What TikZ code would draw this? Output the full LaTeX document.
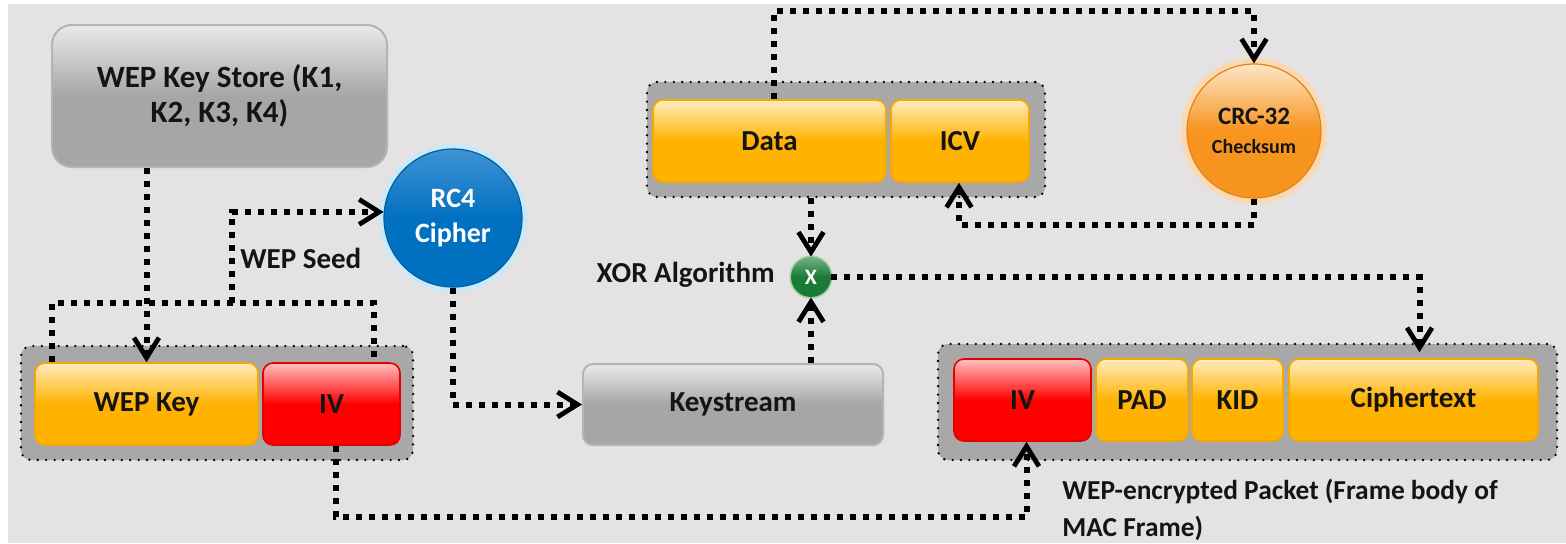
\documentclass[tikz,border=0pt]{standalone}
\usepackage{fontspec}
\setmainfont{Carlito}
\usetikzlibrary{arrows.meta}

\definecolor{bgc}{HTML}{E4E2E3}
\definecolor{grpc}{HTML}{A8A8A8}
\definecolor{amber}{HTML}{FFB300}
\definecolor{amberlt}{HTML}{FFECC0}
\definecolor{amberdk}{HTML}{F5A800}
\definecolor{ivred}{HTML}{FF0000}
\definecolor{ivredlt}{HTML}{FFC0C0}
\definecolor{ivreddk}{HTML}{E60000}
\definecolor{greyfill}{HTML}{A6A6A6}
\definecolor{greylt}{HTML}{EAEAEA}
\definecolor{greyedge}{HTML}{B4B4B4}
\definecolor{rcblue}{HTML}{0070C0}
\definecolor{rcbluelt}{HTML}{3F93D3}
\definecolor{rcglow}{HTML}{C8EAF8}
\definecolor{crcorange}{HTML}{F7941D}
\definecolor{crclt}{HTML}{FDE6C8}
\definecolor{crcglow}{HTML}{FBD9B0}
\definecolor{xgreen}{HTML}{1B7A36}
\definecolor{xglow}{HTML}{9FD3A8}
\definecolor{inkc}{HTML}{141414}

\tikzset{
  lbl/.style={font=\bfseries\fontsize{14.5}{17.5}\selectfont, text=inkc, inner sep=0pt},
  field/.style={lbl, rounded corners=5pt, minimum height=41pt, line width=0.8pt},
  amberbox/.style={field, draw=amberdk, top color=amberlt, bottom color=amber, middle color=amber},
  redbox/.style={field, draw=ivreddk, top color=ivredlt, bottom color=ivred, middle color=ivred},
  greybox/.style={field, draw=greyedge, line width=1pt, top color=greylt, bottom color=greyfill, middle color=greyfill},
  grp/.style={fill=grpc, draw=black, line width=1.3pt, line cap=round, dash pattern=on 0pt off 4.2pt, rounded corners=5pt, inner sep=0pt},
  rc4ball/.style={circle, lbl, text=white, align=center, font=\bfseries\fontsize{14}{17.5}\selectfont,
    minimum size=69pt, preaction={draw=rcglow, line width=5pt},
    top color=rcbluelt, bottom color=rcblue, middle color=rcblue, draw=rcblue!85!black, line width=0.6pt},
  crcball/.style={circle, lbl, align=center, font=\bfseries\fontsize{12.5}{14.5}\selectfont,
    minimum size=67pt, preaction={draw=crcglow, line width=6pt},
    top color=crclt, bottom color=crcorange, middle color=crcorange, draw=crcorange!90!black, line width=0.6pt},
  xball/.style={circle, lbl, text=white, font=\bfseries\fontsize{11}{13}\selectfont,
    minimum size=20pt, preaction={draw=xglow, line width=1.6pt},
    top color=xgreen!60!white, bottom color=xgreen, middle color=xgreen},
  dotline/.style={line width=3pt, dash pattern=on 3pt off 3.5pt},
  flow/.style={dotline, -{Straight Barb[length=10pt, width=12.5pt, line width=2.4pt]}}
}

\begin{document}
\begin{tikzpicture}[x=0.5pt, y=-0.5pt]
    % Canvas
    \fill[white] (0,0) rectangle (1566,543);
    \fill[bgc] (8,4) rectangle (1566,543);
    \useasboundingbox (0,0) rectangle (1566,543);

    % Packet groups
    \node[grp, minimum width=196pt, minimum height=57pt] (grpL) at (217,403) {};
    \node[grp, minimum width=199pt, minimum height=57.5pt] (grpT) at (846,139.5) {};
    \node[grp, minimum width=309.5pt, minimum height=58pt] (grpR) at (1247.5,402) {};

    % Key store and RC4
    \node[greybox, rounded corners=10pt, minimum width=167.5pt, minimum height=71pt, align=center, font=\bfseries\fontsize{15.5}{17.5}\selectfont] (store) at (219.5,96) {WEP Key Store (K1,\\K2, K3, K4)};
    \node[rc4ball] (rc4) at (453,218) {RC4\\Cipher};
    \node[lbl, anchor=west] (seedlbl) at (240,258) {WEP Seed};

    % Key + IV
    \node[amberbox, minimum width=111.5pt] (wkey) at (146.5,404) {WEP Key};
    \node[redbox, minimum width=68.5pt] (iv1) at (331.5,404) {IV};

    % Keystream and XOR
    \node[greybox, minimum width=150pt, minimum height=40.5pt] (keys) at (733,404.5) {Keystream};
    \node[xball] (xor) at (811,277) {X};
    \node[lbl, anchor=east] (xorlbl) at (775,275) {XOR Algorithm};

    % Data + ICV and checksum
    \node[amberbox, minimum width=116.5pt] (data) at (769.5,141) {Data};
    \node[amberbox, minimum width=69pt] (icv) at (960,141) {ICV};
    \node[crcball] (crc) at (1254,131) {CRC-32\\{\fontsize{10}{14.5}\selectfont Checksum}};

    % Encrypted packet
    \node[redbox, minimum width=68.5pt] (iv2) at (1022.5,400) {IV};
    \node[amberbox, minimum width=46pt] (pad) at (1142,400) {PAD};
    \node[amberbox, minimum width=45.5pt] (kid) at (1237.5,400) {KID};
    \node[amberbox, minimum width=124.5pt] (ctext) at (1413.5,400) {Ciphertext};
    \node[lbl, anchor=west, align=left, font=\bfseries\fontsize{13.7}{18.5}\selectfont] (caption) at (1062,510) {WEP-encrypted Packet (Frame body of\\MAC Frame)};

    % Flows
    \coordinate (seed) at (232,303);
    \draw[flow] (wkey.north |- store.south) -- (wkey.north);
    \draw[dotline] ([xshift=9pt]wkey.north west) |- (seed) -| ([xshift=-13.5pt]iv1.north east);
    \draw[flow] (seed) |- (rc4.175);
    \draw[flow] (rc4.south) |- (keys.west);
    \draw[flow] (xor.south |- keys.north) -- (xor.south);
    \draw[flow] (xor.north |- grpT.south) -- (xor.north);
    \draw[flow] ([xshift=2.25pt]data.north) -- ++(0,-88) -| (crc.north);
    \draw[flow] (crc.south) -- ++(0,26) -| ([xshift=-0.5pt]icv.south);
    \draw[flow] (xor.east) -| ([xshift=3pt,yshift=3pt]ctext.north);
    \draw[flow] ([xshift=2pt]iv1.south) -- ++(0,71) -| ([xshift=2pt]iv2.south);
\end{tikzpicture}
\end{document}
